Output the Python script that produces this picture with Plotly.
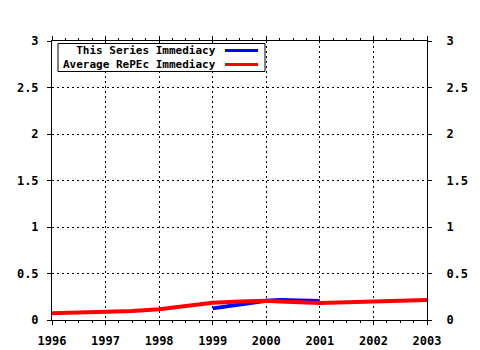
import plotly.graph_objects as go

# Data
avg_years = [1996.0, 1996.5, 1997.0, 1997.5, 1998.0, 1998.25, 1998.5, 1998.75, 1999.0,
             1999.5, 2000.0, 2000.25, 2000.5, 2001.0, 2001.5, 2002.0, 2002.5, 2003.0]
avg_vals = [0.072, 0.08, 0.088, 0.098, 0.115, 0.135, 0.155, 0.172, 0.186,
            0.198, 0.208, 0.2, 0.192, 0.182, 0.19, 0.197, 0.205, 0.215]

series_years = [1999.0, 1999.5, 2000.0, 2000.25, 2000.5, 2001.0]
series_vals = [0.125, 0.17, 0.208, 0.215, 0.212, 0.205]

x_ticks = [1996, 1997, 1998, 1999, 2000, 2001, 2002, 2003]
y_ticks = [0, 0.5, 1, 1.5, 2, 2.5, 3]
y_labels = ["0", "0.5", "1", "1.5", "2", "2.5", "3"]

legend_names = ["This Series Immediacy", "Average RePEc Immediacy"]
colors = ["#0000ff", "#ff0000"]

FONT = dict(family="DejaVu Sans Mono", size=12, color="black", weight="bold")
LEG_FONT = dict(family="DejaVu Sans Mono", size=11, color="black", weight="bold")

fig = go.Figure()
fig.add_trace(go.Scatter(x=series_years, y=series_vals, mode="lines",
                         line=dict(color=colors[0], width=4), showlegend=False))
fig.add_trace(go.Scatter(x=avg_years, y=avg_vals, mode="lines",
                         line=dict(color=colors[1], width=4), showlegend=False))
fig.add_trace(go.Scatter(x=[1996], y=[0], yaxis="y2", mode="markers",
                         marker=dict(opacity=0), showlegend=False, hoverinfo="skip"))

axis_common = dict(showline=True, linecolor="black", linewidth=1, mirror="ticks",
                   ticks="outside", ticklen=4, tickcolor="black", tickfont=FONT,
                   zeroline=False, showgrid=True, gridcolor="black", griddash="2px,3px",
                   gridwidth=1, automargin=False)

fig.update_layout(
    width=480, height=350,
    margin=dict(l=52, r=53, t=41, b=30, autoexpand=False),
    paper_bgcolor="white", plot_bgcolor="white",
    showlegend=False,
    xaxis=dict(range=[1996, 2003], tickvals=x_ticks, ticktext=[str(v) for v in x_ticks],
               ticklabelstandoff=6,
               minor=dict(dtick=0.25, tick0=1996, ticks="outside", ticklen=2,
                          tickcolor="black", showgrid=False),
               **axis_common),
    yaxis=dict(range=[0, 3], tickvals=y_ticks, ticktext=y_labels, ticklabelstandoff=6,
               **axis_common),
    yaxis2=dict(range=[0, 3], tickvals=y_ticks, ticktext=y_labels, overlaying="y",
                side="right", anchor="x", showline=False, ticks="outside", ticklen=4,
                tickcolor="black", tickfont=FONT, showgrid=False, zeroline=False,
                ticklabelstandoff=12, automargin=False),
)

# Legend box (gnuplot style: text right-aligned, sample line to the right)
fig.add_shape(type="rect", xref="paper", yref="paper", x0=0.016, x1=0.568,
              y0=0.8907, y1=0.991, line=dict(color="black", width=1),
              fillcolor="white", layer="above")
fig.add_annotation(xref="paper", yref="paper", x=0.4427, y=(0.8907 + 0.991) / 2,
                   text="<br>".join(legend_names), align="right",
                   showarrow=False, xanchor="right", yanchor="middle", font=LEG_FONT)
legend_y = [0.9659, 0.9158]
for col, ly in zip(colors, legend_y):
    fig.add_shape(type="line", xref="paper", yref="paper", x0=0.4613, x1=0.5493,
                  y0=ly, y1=ly, line=dict(color=col, width=3), layer="above")

fig.write_html("out.html")
